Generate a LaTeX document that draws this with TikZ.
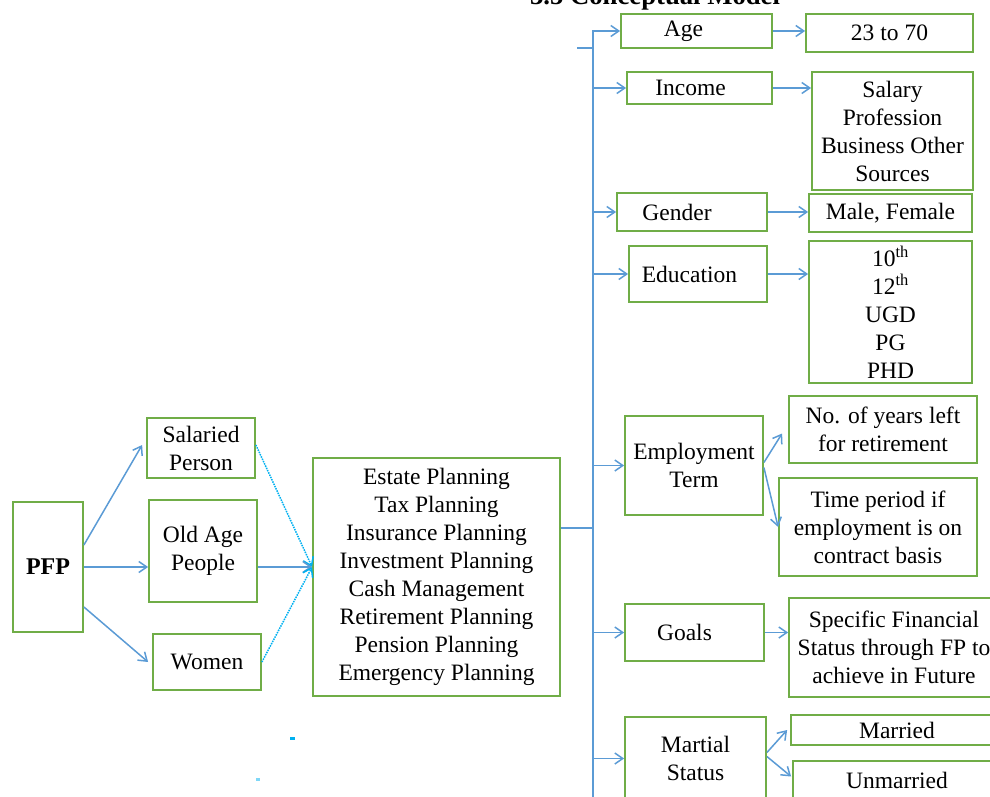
\documentclass[tikz,border=0pt]{standalone}
\usepackage{fontspec}
\setmainfont{Liberation Serif}
\usetikzlibrary{arrows.meta,calc}
\definecolor{bgreen}{RGB}{112,173,71}
\definecolor{lblue}{RGB}{91,155,213}
\definecolor{lcyan}{RGB}{0,176,240}
\begin{document}
\begin{tikzpicture}[x=1pt,y=-1pt,
  box/.style={draw=bgreen,line width=1.8pt,align=center,inner sep=0pt,font=\fontsize{23.5}{28}\selectfont},
  conn/.style={draw=lblue,line width=1.5pt},
  arr/.style={conn,-{Straight Barb[length=8pt,width=11pt]}},
  darr/.style={draw=lcyan,line width=1.5pt,densely dotted,-{Straight Barb[length=8pt,width=11pt]}},
  speck/.style={fill=lcyan,draw=none}]
\useasboundingbox (0,0) rectangle (990,797);

% title (cut at the top edge)
\node[anchor=base,font=\fontsize{26.7}{30}\selectfont\bfseries,inner sep=0pt] (title) at (655,5) {3.5 Conceptual Model};

% left part
\node[box,minimum width=70pt,minimum height=130pt,font=\fontsize{24}{28}\selectfont\bfseries] (pfp) at (48,567) {PFP};
\node[box,minimum width=108pt,minimum height=60pt] (sal) at (201,448) {Salaried\\Person};
\node[box,minimum width=108pt,minimum height=102pt] (old) at (203,551) {Old Age\\People};
\node[box,minimum width=108pt,minimum height=56pt] (wom) at (207,662) {Women};
\node[box,minimum width=247pt,minimum height=238pt] (plan) at (436.5,577) {Estate Planning\\Tax Planning\\Insurance Planning\\Investment Planning\\Cash Management\\Retirement Planning\\Pension Planning\\Emergency Planning};

% right part: first column
\node[box,minimum width=151pt,minimum height=34pt] (age) at (696.5,31) {Age\hspace*{26pt}};
\node[box,minimum width=145pt,minimum height=32pt] (inc) at (699.5,88) {Income\hspace*{18pt}};
\node[box,minimum width=150pt,minimum height=38pt] (gen) at (692,212) {Gender\hspace*{30pt}};
\node[box,minimum width=138pt,minimum height=56pt] (edu) at (698,274) {Education\hspace*{17pt}};
\node[box,minimum width=138pt,minimum height=99pt] (emp) at (694,465.5) {Employment\\Term};
\node[box,minimum width=139pt,minimum height=57pt] (goa) at (694.5,632.5) {Goals\hspace*{20pt}};
\node[box,minimum width=141pt,minimum height=83pt] (mar) at (695.5,758.5) {Martial\\Status};

% right part: second column
\node[box,minimum width=167pt,minimum height=38pt] (agev) at (889.5,33) {23 to 70};
\node[box,minimum width=161pt,minimum height=118pt] (incv) at (892.5,131) {Salary\\Profession\\Business Other\\Sources};
\node[box,minimum width=163pt,minimum height=38pt] (genv) at (890.5,213) {Male, Female};
\node[box,minimum width=163pt,minimum height=142pt] (eduv) at (890.5,312) {10\textsuperscript{th}\\12\textsuperscript{th}\\UGD\\PG\\PHD};
\node[box,minimum width=188pt,minimum height=67pt] (yrs) at (883,429.5) {No. of years left\\for retirement};
\node[box,minimum width=198pt,minimum height=98pt] (tim) at (878,527) {Time period if\\employment is on\\contract basis};
\node[box,minimum width=210pt,minimum height=99pt] (gov) at (894,647.5) {Specific Financial\\Status through FP to\\achieve in Future};
\node[box,minimum width=212pt,minimum height=30pt] (mrd) at (897,730) {Married};
\node[box,minimum width=208pt,minimum height=39pt] (unm) at (897,780.5) {Unmarried};

% left connectors
\draw[arr] ([yshift=22pt]pfp.east) -- ([xshift=-4pt,yshift=3pt]sal.west);
\draw[arr] (pfp.east) -- (pfp.east -| old.west);
\draw[arr] ([yshift=-40pt]pfp.east) -- ([xshift=-4pt]wom.west);
\coordinate (conv) at ([yshift=10pt]plan.west);
\draw[darr] ([yshift=3pt]sal.east) -- (conv);
\draw[arr] (conv -| old.east) -- (conv);
\draw[darr] (wom.east) -- (conv);

% trunk
\coordinate (tbot) at (593,797);
\coordinate (tj) at (593,528);
\coordinate (stub) at (577,48);
\draw[conn] (tj -| plan.east) -- (tj);
\draw[arr] (tbot) -- (tbot |- age.west) -- (age.west);
\draw[conn] (stub) -- (stub -| tbot);
\foreach \n in {inc,gen,edu,emp,goa,mar}
  \draw[arr] (tbot |- \n.west) -- (\n.west);

% second-level connectors
\draw[arr] (age.east) -- (age.east -| agev.west);
\draw[arr] (inc.east) -- (inc.east -| incv.west);
\draw[arr] (gen.east) -- (gen.east -| genv.west);
\draw[arr] (edu.east) -- (edu.east -| eduv.west);
\draw[arr] ([yshift=3pt]emp.east) -- ([xshift=-6pt,yshift=-4pt]yrs.west);
\draw[arr] ([yshift=-2pt]emp.east) -- (tim.west);
\draw[arr] (goa.east) -- (goa.east -| gov.west);
\draw[arr] ([yshift=6pt]mar.east) -- ([xshift=-3pt]mrd.west);
\draw[arr] ([yshift=2pt]mar.east) -- ([xshift=-1pt,yshift=4pt]unm.west);

% small specks
\fill[speck] (290,737) rectangle (295,740);
\fill[speck,opacity=0.5] (256,778) rectangle (260,781);
\end{tikzpicture}
\end{document}
